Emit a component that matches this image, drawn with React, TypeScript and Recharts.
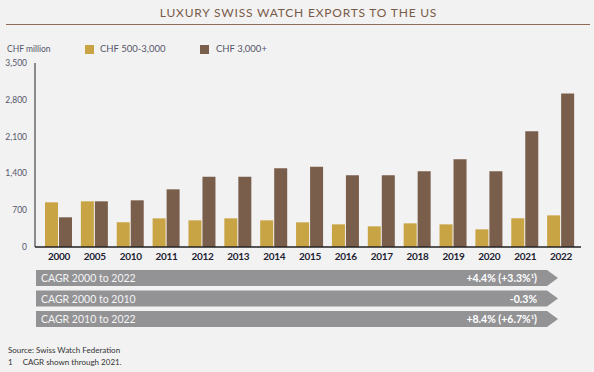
import { BarChart, Bar, XAxis, YAxis } from 'recharts';

// CHF million
const years = ['2000', '2005', '2010', '2011', '2012', '2013', '2014', '2015', '2016', '2017', '2018', '2019', '2020', '2021', '2022'];
const midRange = [850, 869, 469, 545, 507, 545, 507, 469, 431, 393, 450, 431, 336, 545, 602];
const highEnd = [565, 869, 888, 1097, 1338, 1338, 1496, 1528, 1363, 1363, 1439, 1667, 1439, 2200, 2922];
const yTicks = [0, 700, 1400, 2100, 2800, 3500];

const cagrLabels = ['CAGR 2000 to 2022', 'CAGR 2000 to 2010', 'CAGR 2010 to 2022'];
const cagrMain = ['+4.4%', '-0.3%', '+8.4%'];
const cagrThrough2021 = ['+3.3%', '', '+6.7%'];

const GOLD = '#c9a444';
const BROWN = '#7a5e4c';
const GREY = '#939396';
const FONT = 'Lato, "Open Sans", sans-serif';

const data = years.map((year, i) => ({ year, mid: midRange[i], high: highEnd[i] }));

function CagrArrows() {
  const left = 36;
  const right = 547;
  const tip = 558;
  const h = 16;
  return (
    <svg width={594} height={62} style={{ position: 'absolute', left: 0, top: 269 }}>
      {cagrLabels.map((label, i) => {
        const y = i * 20.5 + 1;
        return (
          <g key={label}>
            <polygon
              points={`${left},${y} ${right},${y} ${tip},${y + h / 2} ${right},${y + h} ${left},${y + h}`}
              fill={GREY}
            />
            <text x={41} y={y + 12} fontSize={10.5} fill="#f4f4f4" fontFamily={FONT}>
              {label}
            </text>
            <text x={537} y={y + 12} fontSize={10.5} fill="#ffffff" fontFamily={FONT} fontWeight={700} textAnchor="end">
              {cagrMain[i]}
              {cagrThrough2021[i] && (
                <>
                  {` (${cagrThrough2021[i]}`}
                  <tspan fontSize={6} dy={-4}>1</tspan>
                  <tspan dy={4}>)</tspan>
                </>
              )}
            </text>
          </g>
        );
      })}
    </svg>
  );
}

export default function App() {
  return (
    <div
      style={{
        position: 'absolute',
        left: 0,
        top: 0,
        width: 594,
        height: 372,
        background: '#f2f2f2',
        fontFamily: FONT,
        overflow: 'hidden',
      }}
    >
      <div
        style={{
          position: 'absolute',
          top: 5,
          left: 0,
          width: 597,
          textAlign: 'center',
          fontSize: 12,
          letterSpacing: 0.8,
          color: '#7a5a48',
          lineHeight: '16px',
        }}
      >
        LUXURY SWISS WATCH EXPORTS TO THE US
      </div>
      <div style={{ position: 'absolute', top: 24, left: 6, width: 584, height: 1, background: '#8d6b57' }} />

      <div style={{ position: 'absolute', top: 43, left: 7, fontSize: 8.5, color: '#55566a', lineHeight: '12px' }}>
        CHF million
      </div>
      <div style={{ position: 'absolute', top: 45, left: 85, width: 9, height: 9, background: GOLD }} />
      <div style={{ position: 'absolute', top: 42, left: 100, fontSize: 9.5, color: '#55566a', lineHeight: '13px' }}>
        CHF 500-3,000
      </div>
      <div style={{ position: 'absolute', top: 45, left: 200, width: 9, height: 9, background: BROWN }} />
      <div style={{ position: 'absolute', top: 42, left: 216, fontSize: 9.5, color: '#55566a', lineHeight: '13px' }}>
        CHF 3,000+
      </div>

      <div style={{ position: 'absolute', top: 0, left: 0 }}>
        <BarChart
          width={594}
          height={270}
          data={data}
          margin={{ top: 63, right: 13, left: 0, bottom: 0 }}
          barSize={13}
          barGap={1}
        >
          <YAxis
            width={35}
            domain={[0, 3500]}
            ticks={yTicks}
            tickLine={false}
            axisLine={{ stroke: '#222222', strokeWidth: 1 }}
            tick={{ fontSize: 8.5, fill: '#55566a', fontFamily: FONT }}
            tickFormatter={(v: number) => v.toLocaleString('en-US')}
            interval={0}
          />
          <XAxis
            dataKey="year"
            height={23}
            padding={{ left: 6, right: 2 }}
            tickLine={false}
            tickMargin={0}
            axisLine={{ stroke: '#222222', strokeWidth: 1.5 }}
            tick={{ fontSize: 10, fill: '#222233', fontFamily: FONT, fontWeight: 700, letterSpacing: -0.3 }}
            interval={0}
          />
          <Bar dataKey="mid" fill={GOLD} isAnimationActive={false} />
          <Bar dataKey="high" fill={BROWN} isAnimationActive={false} />
        </BarChart>
      </div>

      <CagrArrows />

      <div style={{ position: 'absolute', top: 345, left: 8, fontSize: 8, color: '#333333', lineHeight: '11px' }}>
        Source: Swiss Watch Federation
      </div>
      <div style={{ position: 'absolute', top: 357, left: 8, fontSize: 8, color: '#333333', lineHeight: '11px' }}>
        1<span style={{ marginLeft: 10 }}>CAGR shown through 2021.</span>
      </div>
    </div>
  );
}
